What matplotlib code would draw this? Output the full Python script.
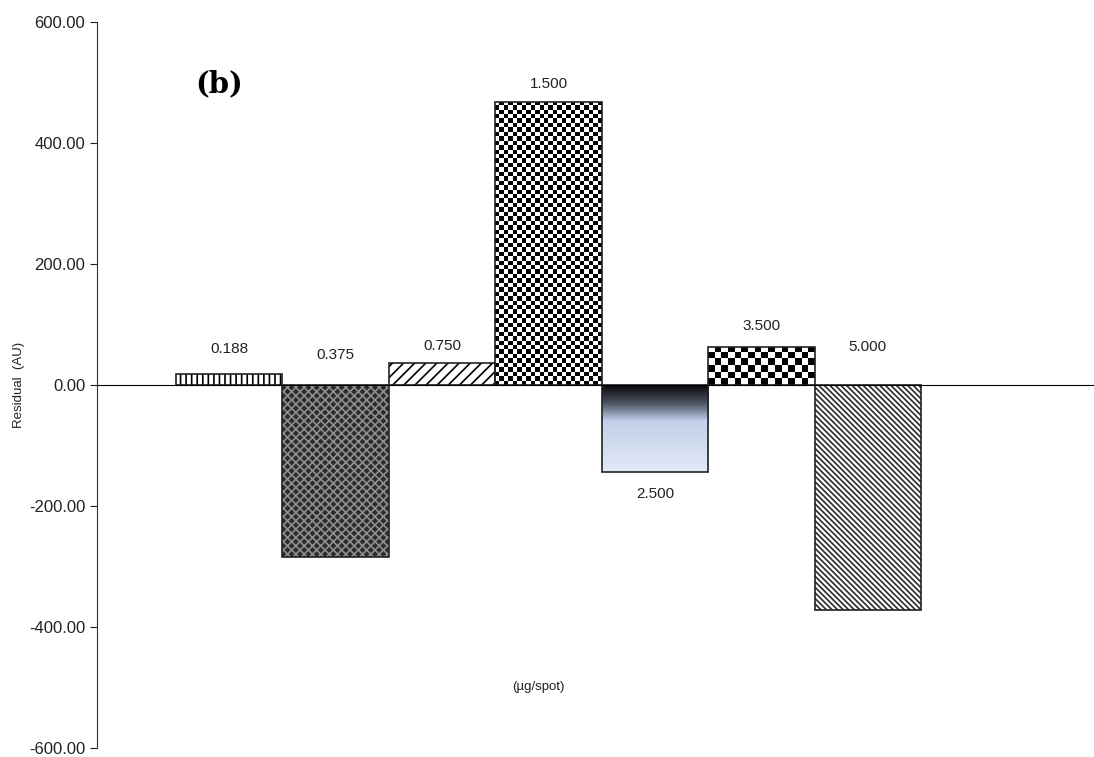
import numpy as np
import matplotlib
matplotlib.use("Agg")
import matplotlib.pyplot as plt
from matplotlib.colors import LinearSegmentedColormap

# ---- data ----
concentrations = ["0.188", "0.375", "0.750", "1.500", "2.500", "3.500", "5.000"]
residuals = [17.7, -285.0, 35.8, 467.0, -144.6, 62.7, -372.0]
label_y = [59, 50, 65, 497, -180, 97, 62]
y_ticks = [-600, -400, -200, 0, 200, 400, 600]

plt.rcParams['font.family'] = ['Liberation Sans', 'DejaVu Sans']
plt.rcParams['hatch.linewidth'] = 1.2

W, H = 1094, 757
fig = plt.figure(figsize=(W / 100, H / 100), dpi=100)
ax = fig.add_axes([97 / W, 9 / H, 1 - 97 / W, (748 - 22) / H])

x = np.arange(len(residuals))
XLIM = (-1.242, 8.124)
YLIM = (-600, 600)
ax.set_xlim(*XLIM)
ax.set_ylim(*YLIM)

styles = [
    dict(kind="hatch", face="white", hatch="|||", hcolor="black"),
    dict(kind="hatch", face="#2c2c2c", hatch="xxxx", hcolor="#8e8e8e"),
    dict(kind="hatch", face="white", hatch="///", hcolor="black"),
    dict(kind="checker", nx=24),
    dict(kind="gradient"),
    dict(kind="checker", nx=16),
    dict(kind="hatch", face="white", hatch="\\" * 6, hcolor="#2a2a2a"),
]

grad_cmap = LinearSegmentedColormap.from_list(
    "grad", [(0.0, "#050505"), (0.22, "#4e5564"), (0.42, "#c3d0ea"), (1.0, "#e2e9f6")])

# outlines (also used as clip paths)
outlines = ax.bar(x, residuals, width=1.0, facecolor="none", edgecolor="#222222",
                  linewidth=1.2, zorder=4)

fig.canvas.draw()
for i, (st, patch) in enumerate(zip(styles, outlines.patches)):
    x0 = patch.get_x()
    x1 = x0 + patch.get_width()
    yb = min(0, residuals[i])
    yt = max(0, residuals[i])
    if st["kind"] == "hatch":
        ax.bar(x[i], residuals[i], width=1.0, facecolor=st["face"],
               edgecolor=st["hcolor"], hatch=st["hatch"], linewidth=0, zorder=2)
    elif st["kind"] == "checker":
        p0 = ax.transData.transform((x0, yb))
        p1 = ax.transData.transform((x1, yt))
        wpx = abs(p1[0] - p0[0])
        hpx = abs(p1[1] - p0[1])
        cell = wpx / st["nx"]
        ny = max(1, int(round(hpx / cell)))
        ii, jj = np.meshgrid(np.arange(st["nx"]), np.arange(ny))
        board = ((ii + jj) % 2).astype(float)
        im = ax.imshow(board, cmap="gray", interpolation="nearest", aspect="auto",
                       extent=(x0, x1, yb, yb + ny * cell * (yt - yb) / hpx),
                       origin="lower", zorder=2)
        im.set_clip_path(patch)
    else:
        grad = np.linspace(0, 1, 256).reshape(-1, 1)
        im = ax.imshow(grad, cmap=grad_cmap, interpolation="bilinear", aspect="auto",
                       extent=(x0, x1, yb, yt), origin="upper", zorder=2)
        im.set_clip_path(patch)

ax.set_xlim(*XLIM)
ax.set_ylim(*YLIM)

for i, lab in enumerate(concentrations):
    ax.text(x[i], label_y[i], lab, ha="center", va="center", fontsize=11, color="#222222")

# axes styling
ax.spines["top"].set_visible(False)
ax.spines["right"].set_visible(False)
ax.spines["bottom"].set_position(("data", 0))
ax.spines["bottom"].set_zorder(5)
ax.spines["left"].set_color("#333333")
ax.set_xticks([])
ax.set_yticks(y_ticks)
ax.set_yticklabels([f"{v:.2f}" for v in y_ticks])
ax.tick_params(axis="y", direction="out", length=5, labelsize=12, colors="#222222")
ax.set_ylabel("Residual  (AU)", fontsize=9.5, color="#222222")
ax.yaxis.set_label_coords(-0.072, 0.5)

fig.text(219 / W, 1 - 84 / H, "(b)", fontsize=21, fontweight="bold",
         family="DejaVu Serif", ha="center", va="center")
fig.text(538 / W, 1 - 687 / H, "(\u00b5g/spot)", fontsize=9.5, ha="center", va="center",
         color="#222222")

fig.savefig("out.png", dpi=100)
